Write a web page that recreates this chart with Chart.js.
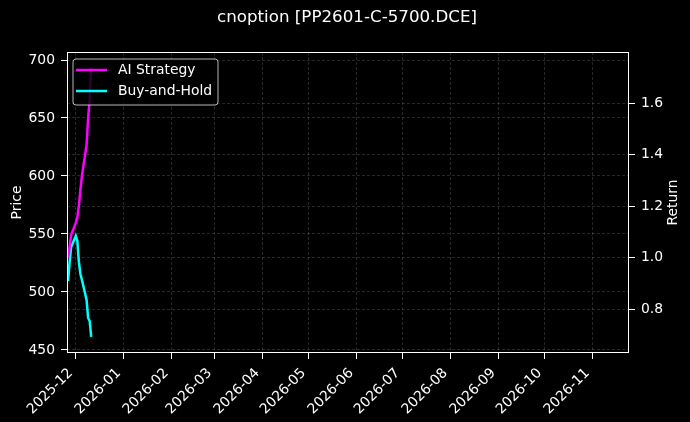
<!DOCTYPE html>
<html>
<head>
<meta charset="utf-8">
<script src="https://cdn.jsdelivr.net/npm/chart.js@4.4.1/dist/chart.umd.min.js"></script>
<style>
  html, body { margin: 0; padding: 0; background: #000; }
  #chart { display: block; }
</style>
</head>
<body>
<canvas id="chart" width="690" height="422"></canvas>
<script>
const titleText = "cnoption [PP2601-C-5700.DCE]";
const dates = ["2025-11-26", "2025-11-27", "2025-11-28", "2025-12-01", "2025-12-02", "2025-12-03",
               "2025-12-04", "2025-12-05", "2025-12-08", "2025-12-09", "2025-12-10", "2025-12-11"];
const aiReturn = [1.000, 1.042, 1.089, 1.135, 1.155, 1.201, 1.263, 1.318, 1.438, 1.543, 1.613, 1.737];
const bhPrice = [509.5, 525.9, 538.8, 548.3, 544.0, 525.9, 515.5, 510.3, 493.1, 477.6, 475.0, 461.2];
const monthTicks = ["2025-12", "2026-01", "2026-02", "2026-03", "2026-04", "2026-05",
                    "2026-06", "2026-07", "2026-08", "2026-09", "2026-10", "2026-11"];
const priceTicks = [450, 500, 550, 600, 650, 700];
const returnTicks = [0.8, 1.0, 1.2, 1.4, 1.6];

const FONT = "'DejaVu Sans', sans-serif";
const day = (s) => Date.UTC(+s.slice(0, 4), +s.slice(5, 7) - 1, s.length > 7 ? +s.slice(8, 10) : 1) / 86400000;
const monthVals = monthTicks.map(day);

const gridOpts = { color: "rgba(255,255,255,0.22)", lineWidth: 0.7, tickColor: "#fff", tickLength: 6, tickWidth: 1 };
const borderOpts = { display: false, dash: [3, 2] };

// title, axis labels, frame and legend box
const decor = {
  id: "decor",
  afterDraw(c) {
    const ctx = c.ctx, a = c.chartArea;
    ctx.save();
    ctx.fillStyle = "#fff";
    ctx.textAlign = "center";
    ctx.textBaseline = "middle";
    ctx.font = `16.7px ${FONT}`;
    ctx.fillText(titleText, 347, 18);
    ctx.font = `13.9px ${FONT}`;
    [["Price", 17], ["Return", 673]].forEach(([t, x]) => {
      ctx.save();
      ctx.translate(x, (a.top + a.bottom) / 2);
      ctx.rotate(-Math.PI / 2);
      ctx.fillText(t, 0, 0);
      ctx.restore();
    });
    ctx.strokeStyle = "#fff";
    ctx.lineWidth = 1;
    ctx.strokeRect(a.left + 0.5, a.top + 0.5, a.right - a.left - 1, a.bottom - a.top - 1);

    // legend
    const lx = a.left + 6, ly = a.top + 7, lw = 145, lh = 46;
    ctx.beginPath();
    ctx.roundRect(lx, ly, lw, lh, 3);
    ctx.fillStyle = "rgba(0,0,0,0.8)";
    ctx.fill();
    ctx.strokeStyle = "rgba(204,204,204,0.9)";
    ctx.stroke();
    c.data.datasets.forEach((ds, i) => {
      const y = ly + 11 + i * 21;
      ctx.strokeStyle = ds.borderColor;
      ctx.lineWidth = 2.5;
      ctx.beginPath();
      ctx.moveTo(lx + 3, y);
      ctx.lineTo(lx + 34, y);
      ctx.stroke();
      ctx.fillStyle = "#fff";
      ctx.textAlign = "left";
      ctx.fillText(ds.label, lx + 45, y);
    });
    ctx.restore();
  }
};

const tickFont = { family: FONT, size: 13.9 };

new Chart(document.getElementById("chart").getContext("2d"), {
  type: "line",
  data: {
    datasets: [
      { label: "AI Strategy", data: dates.map((d, i) => ({ x: day(d), y: aiReturn[i] })),
        borderColor: "#ff00ff", borderWidth: 2.5, pointRadius: 0, yAxisID: "y2", tension: 0 },
      { label: "Buy-and-Hold", data: dates.map((d, i) => ({ x: day(d), y: bhPrice[i] })),
        borderColor: "#00ffff", borderWidth: 2.5, pointRadius: 0, yAxisID: "y", tension: 0 }
    ]
  },
  options: {
    responsive: false,
    animation: false,
    devicePixelRatio: 1,
    layout: { padding: { top: 52, left: 0, right: 0, bottom: 0 } },
    plugins: { legend: { display: false }, title: { display: false }, tooltip: { enabled: false } },
    scales: {
      x: {
        type: "linear",
        min: day("2025-11-25") + 0.3,
        max: day("2026-11-24") + 0.7,
        grid: gridOpts, border: borderOpts,
        afterBuildTicks: (s) => { s.ticks = monthVals.map(v => ({ value: v })); },
        afterFit: (s) => { s.height = 69; },
        ticks: {
          color: "#fff", font: tickFont, padding: 6, labelOffset: -5,
          minRotation: 45, maxRotation: 45, autoSkip: false,
          callback: (v) => { const i = monthVals.indexOf(v); return i >= 0 ? monthTicks[i] : ""; }
        }
      },
      y: {
        position: "left",
        min: 447.4, max: 706.9,
        grid: gridOpts, border: borderOpts,
        afterBuildTicks: (s) => { s.ticks = priceTicks.map(v => ({ value: v })); },
        afterFit: (s) => { s.width = 67; },
        ticks: { color: "#fff", font: tickFont, padding: 6, callback: (v) => String(v) }
      },
      y2: {
        position: "right",
        min: 0.630, max: 1.798,
        grid: gridOpts, border: borderOpts,
        afterBuildTicks: (s) => { s.ticks = returnTicks.map(v => ({ value: v })); },
        afterFit: (s) => { s.width = 61; },
        ticks: { color: "#fff", font: tickFont, padding: 6, callback: (v) => v.toFixed(1) }
      }
    }
  },
  plugins: [decor]
});
</script>
</body>
</html>
